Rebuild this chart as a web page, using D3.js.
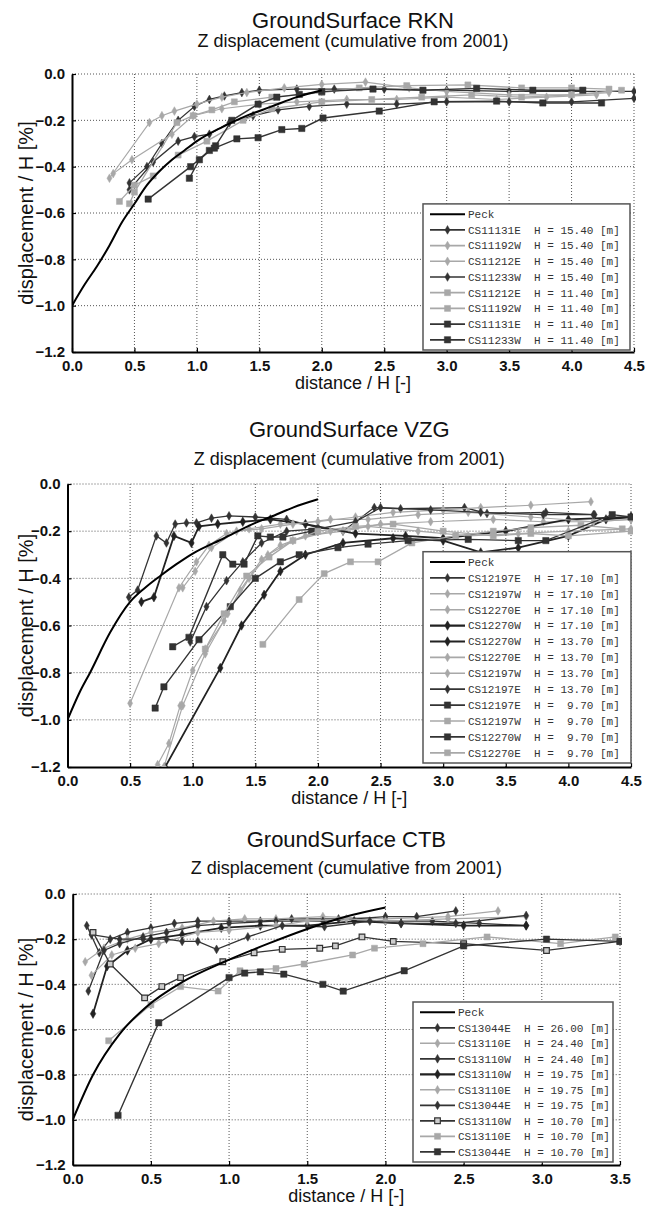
<!DOCTYPE html>
<html>
<head>
<meta charset="utf-8">
<script src="https://cdn.jsdelivr.net/npm/d3@7"></script>
<style>
  body { margin: 0; background: #fff; }
  svg { display: block; }
  text { font-family: "Liberation Sans", Arial, sans-serif; fill: #111; }
  .leg text { font-family: "Liberation Mono", "Courier New", monospace; white-space: pre; fill: #333; }
</style>
</head>
<body>
<svg id="chart" width="656" height="1207"></svg>
<script>
// ── tick labels ──────────────────────────────────────────────
const xTicks45 = [0, 0.5, 1.0, 1.5, 2.0, 2.5, 3.0, 3.5, 4.0, 4.5];
const xTicks35 = [0, 0.5, 1.0, 1.5, 2.0, 2.5, 3.0, 3.5];
const yTicks   = [0, -0.2, -0.4, -0.6, -0.8, -1.0, -1.2];

// ── RKN ([distance/H, displacement/H]) ──
const rknPeck = [[0,-1],[0.1,-0.91],[0.2,-0.83],[0.3,-0.74],[0.4,-0.64],[0.5,-0.56],[0.6,-0.48],[0.7,-0.42],[0.8,-0.37],[0.9,-0.33],[1.0,-0.29],[1.2,-0.23],[1.4,-0.18],[1.6,-0.14],[1.8,-0.1],[2.0,-0.07]];
const rkn11131E_154 = [[0.46,-0.47],[0.6,-0.4],[0.72,-0.3],[0.85,-0.2],[0.98,-0.14],[1.1,-0.11],[1.22,-0.095],[1.36,-0.08],[1.5,-0.07],[1.8,-0.065],[2.1,-0.065],[2.5,-0.065],[3.0,-0.07],[3.5,-0.075],[4.0,-0.075],[4.5,-0.075]];
const rkn11192W_154 = [[0.3,-0.45],[0.62,-0.21],[0.72,-0.18],[0.82,-0.16],[1.0,-0.13],[1.2,-0.1],[1.4,-0.08],[1.7,-0.06],[2.0,-0.045],[2.35,-0.035],[2.7,-0.06],[3.0,-0.075],[3.5,-0.09],[4.0,-0.09],[4.3,-0.08]];
const rkn11212E_154 = [[0.33,-0.43],[0.48,-0.37],[0.8,-0.26],[0.97,-0.18],[1.2,-0.15],[1.5,-0.13],[1.8,-0.12],[2.2,-0.11],[2.6,-0.11],[3.0,-0.1],[3.4,-0.11],[3.8,-0.1],[4.2,-0.09]];
const rkn11233W_154 = [[0.46,-0.5],[0.65,-0.38],[0.85,-0.29],[0.98,-0.27],[1.1,-0.26],[1.26,-0.21],[1.45,-0.18],[1.65,-0.155],[1.9,-0.14],[2.2,-0.13],[2.6,-0.13],[3.0,-0.12],[3.5,-0.12],[4.0,-0.12],[4.5,-0.105]];
const rkn11212E_114 = [[0.38,-0.55],[0.5,-0.48],[0.65,-0.44],[0.85,-0.35],[1.08,-0.29],[1.37,-0.2],[1.6,-0.15],[2.0,-0.12],[2.4,-0.11],[2.8,-0.1],[3.2,-0.09],[3.6,-0.1],[4.0,-0.09],[4.4,-0.07]];
const rkn11192W_114 = [[0.46,-0.56],[0.5,-0.51],[0.84,-0.21],[0.97,-0.18],[1.12,-0.155],[1.3,-0.12],[1.6,-0.1],[2.0,-0.08],[2.3,-0.06],[2.68,-0.05],[3.17,-0.047],[3.6,-0.06],[4.0,-0.06],[4.3,-0.065]];
const rkn11131E_114 = [[0.94,-0.45],[1.02,-0.37],[1.15,-0.31],[1.28,-0.2],[1.49,-0.13],[1.64,-0.1],[1.82,-0.088],[2.0,-0.076],[2.41,-0.065],[2.81,-0.07],[3.24,-0.062],[3.69,-0.07],[4.09,-0.07]];
const rkn11233W_114 = [[0.61,-0.54],[0.95,-0.4],[1.1,-0.33],[1.14,-0.32],[1.32,-0.28],[1.49,-0.275],[1.68,-0.24],[1.84,-0.235],[2.01,-0.19],[2.46,-0.16],[2.9,-0.12],[3.4,-0.117],[3.77,-0.125],[4.24,-0.125]];

// ── VZG ──────────────────────────────────────────────────────
const vzgPeck = [[0,-1],[0.1,-0.88],[0.18,-0.8],[0.34,-0.63],[0.5,-0.5],[0.62,-0.44],[0.74,-0.39],[0.87,-0.34],[1.0,-0.295],[1.25,-0.23],[1.5,-0.165],[1.62,-0.14],[1.8,-0.1],[2.0,-0.065]];
const vzg12197E_171 = [[0.49,-0.48],[0.56,-0.45],[0.71,-0.22],[0.79,-0.25],[0.86,-0.17],[0.95,-0.165],[1.03,-0.165],[1.15,-0.145],[1.29,-0.135],[1.5,-0.14],[1.75,-0.15],[2.0,-0.185],[2.2,-0.2],[2.45,-0.1],[2.66,-0.105],[3.17,-0.1],[3.35,-0.125],[3.82,-0.12],[4.21,-0.13]];
const vzg12197W_171 = [[0.5,-0.93],[0.89,-0.44],[1.03,-0.33],[1.13,-0.26],[1.27,-0.21],[1.45,-0.19],[1.7,-0.17],[2.0,-0.16],[2.3,-0.14],[2.6,-0.12],[3.0,-0.11],[3.3,-0.1],[3.7,-0.09],[4.18,-0.075]];
const vzg12270E_171 = [[0.72,-1.19],[0.81,-1.1],[0.9,-0.94],[1.0,-0.79],[1.1,-0.7],[1.25,-0.58],[1.38,-0.45],[1.55,-0.32],[1.7,-0.26],[1.9,-0.22],[2.2,-0.2],[2.5,-0.17],[2.9,-0.16],[3.4,-0.15],[3.8,-0.16],[4.2,-0.16],[4.5,-0.15]];
const vzg12270W_171 = [[0.59,-0.5],[0.69,-0.48],[0.85,-0.22],[0.99,-0.25],[1.05,-0.18],[1.2,-0.17],[1.4,-0.16],[1.62,-0.15],[1.9,-0.17],[2.3,-0.21],[2.7,-0.22],[3.0,-0.23],[3.5,-0.2],[4.0,-0.15],[4.5,-0.14]];
const vzg12270W_137 = [[0.78,-1.2],[1.22,-0.78],[1.39,-0.6],[1.57,-0.47],[1.7,-0.37],[1.9,-0.3],[2.2,-0.25],[2.6,-0.23],[3.0,-0.24],[3.3,-0.29],[3.6,-0.27],[4.0,-0.22],[4.3,-0.15],[4.5,-0.14]];
const vzg12270E_137 = [[0.77,-1.2],[0.92,-0.94],[1.1,-0.72],[1.28,-0.55],[1.45,-0.4],[1.6,-0.3],[1.8,-0.24],[2.1,-0.2],[2.4,-0.18],[2.8,-0.2],[3.2,-0.22],[3.6,-0.21],[4.0,-0.2],[4.5,-0.19]];
const vzg12197W_137 = [[0.92,-0.44],[1.02,-0.37],[1.15,-0.27],[1.35,-0.2],[1.55,-0.19],[1.8,-0.17],[2.1,-0.15],[2.4,-0.15],[2.8,-0.13],[3.2,-0.12],[3.7,-0.14],[4.2,-0.16],[4.5,-0.15]];
const vzg12197E_137 = [[0.98,-0.67],[1.11,-0.52],[1.27,-0.41],[1.4,-0.33],[1.55,-0.25],[1.75,-0.2],[2.0,-0.19],[2.3,-0.16],[2.5,-0.1],[2.9,-0.11],[3.3,-0.12],[3.8,-0.13],[4.2,-0.13]];
const vzg12197E_97  = [[0.84,-0.69],[0.97,-0.65],[1.24,-0.3],[1.32,-0.34],[1.41,-0.34],[1.52,-0.22],[1.62,-0.225],[1.72,-0.225],[1.95,-0.2]];
const vzg12197W_97  = [[1.56,-0.68],[1.85,-0.49],[2.05,-0.38],[2.26,-0.33],[2.48,-0.33],[2.75,-0.25],[3.1,-0.22],[3.4,-0.2],[3.7,-0.185],[4.1,-0.175],[4.43,-0.19]];
const vzg12270W_97  = [[0.7,-0.95],[0.77,-0.86],[1.05,-0.66],[1.3,-0.52],[1.5,-0.4],[1.7,-0.33],[1.85,-0.3],[2.16,-0.27],[2.4,-0.255],[2.72,-0.24],[3.2,-0.235],[3.6,-0.24],[3.82,-0.24],[4.35,-0.13],[4.5,-0.14]];
const vzg12270E_97  = [[1.1,-0.7],[1.25,-0.55],[1.43,-0.39],[1.61,-0.31],[1.8,-0.24],[2.0,-0.2],[2.3,-0.18],[2.6,-0.17],[3.0,-0.2],[3.4,-0.22],[3.7,-0.21],[4.0,-0.22],[4.5,-0.2]];

// ── CTB ──────────────────────────────────────────────────────
const ctbPeck = [[0,-1],[0.13,-0.8],[0.3,-0.62],[0.47,-0.5],[0.7,-0.39],[0.97,-0.3],[1.25,-0.22],[1.5,-0.155],[1.75,-0.1],[2.0,-0.06]];
const ctb13044E_260 = [[0.09,-0.14],[0.17,-0.26],[0.24,-0.2],[0.35,-0.17],[0.5,-0.15],[0.65,-0.13],[0.8,-0.12],[1.0,-0.12],[1.2,-0.12],[1.4,-0.11],[1.7,-0.11],[2.0,-0.12],[2.3,-0.12],[2.6,-0.13],[2.9,-0.14]];
const ctb13110E_244 = [[0.08,-0.3],[0.2,-0.24],[0.35,-0.2],[0.5,-0.17],[0.7,-0.15],[0.9,-0.12],[1.1,-0.11],[1.3,-0.11],[1.6,-0.1],[2.0,-0.11],[2.4,-0.1],[2.72,-0.075]];
const ctb13110W_244 = [[0.1,-0.43],[0.2,-0.25],[0.3,-0.22],[0.45,-0.19],[0.6,-0.17],[0.8,-0.14],[1.0,-0.13],[1.3,-0.12],[1.6,-0.12],[2.0,-0.1],[2.2,-0.1],[2.45,-0.075]];
const ctb13110W_1975 = [[0.13,-0.53],[0.22,-0.32],[0.35,-0.25],[0.5,-0.2],[0.7,-0.18],[0.95,-0.15],[1.2,-0.14],[1.5,-0.14],[1.8,-0.12],[2.1,-0.13],[2.5,-0.14],[2.9,-0.14]];
const ctb13110E_1975 = [[0.12,-0.36],[0.25,-0.27],[0.4,-0.24],[0.55,-0.22],[0.8,-0.17],[1.0,-0.16],[1.3,-0.14],[1.5,-0.12],[1.75,-0.11],[2.0,-0.12],[2.4,-0.11],[2.9,-0.1]];
const ctb13044E_1975 = [[0.12,-0.18],[0.3,-0.2],[0.45,-0.2],[0.6,-0.2],[0.7,-0.21],[0.8,-0.21],[0.92,-0.245],[1.12,-0.19],[1.34,-0.14],[1.61,-0.145],[1.9,-0.12],[2.1,-0.13],[2.45,-0.13],[2.9,-0.095]];
const ctb13110W_107 = [[0.13,-0.17],[0.24,-0.31],[0.46,-0.46],[0.57,-0.41],[0.69,-0.37],[0.96,-0.3],[1.16,-0.26],[1.34,-0.245],[1.58,-0.24],[1.68,-0.23],[1.85,-0.19],[2.05,-0.21],[2.5,-0.22],[3.03,-0.25],[3.5,-0.21]];
const ctb13110E_107 = [[0.23,-0.65],[0.5,-0.49],[0.69,-0.41],[0.93,-0.43],[1.07,-0.34],[1.3,-0.33],[1.48,-0.31],[1.79,-0.27],[1.93,-0.24],[2.24,-0.22],[2.65,-0.19],[3.12,-0.22],[3.47,-0.19]];
const ctb13044E_107 = [[0.29,-0.98],[0.55,-0.57],[1.0,-0.37],[1.1,-0.35],[1.2,-0.345],[1.35,-0.355],[1.6,-0.4],[1.73,-0.43],[2.12,-0.34],[2.5,-0.23],[3.03,-0.2],[3.5,-0.21]];

// ── styles (kept apart from the values) ──────────────────────
const STYLE = {
  darkDot:  { stroke: "#333", fill: "#333", sym: d3.symbolDiamond, size: 22, width: 1.3 },
  darkPlus: { stroke: "#222", fill: "#222", sym: d3.symbolDiamond, size: 26, width: 1.8 },
  lightDot: { stroke: "#a8a8a8", fill: "#a8a8a8", sym: d3.symbolDiamond, size: 22, width: 1.2 },
  darkSq:   { stroke: "#333", fill: "#333", sym: d3.symbolSquare,  size: 40, width: 1.4 },
  lightSq:  { stroke: "#a8a8a8", fill: "#a8a8a8", sym: d3.symbolSquare,  size: 36, width: 1.3 },
  openSq:   { stroke: "#333", fill: "#ccc", sym: d3.symbolSquare,  size: 32, width: 1.3 }
};

const panels = [
  { title: "GroundSurface RKN", titleY: 28, subY: 47,
    left: 72, right: 634, top: 74, bottom: 352, xMax: 4.5, xTicks: xTicks45, peck: rknPeck,
    legend: { x: 423, width: 207, bottom: 350, rowH: 15.7 },
    series: [
      { data: rkn11131E_154, name: "CS11131E", h: 15.40, style: "darkDot" },
      { data: rkn11192W_154, name: "CS11192W", h: 15.40, style: "lightDot" },
      { data: rkn11212E_154, name: "CS11212E", h: 15.40, style: "lightDot" },
      { data: rkn11233W_154, name: "CS11233W", h: 15.40, style: "darkDot" },
      { data: rkn11212E_114, name: "CS11212E", h: 11.40, style: "lightSq" },
      { data: rkn11192W_114, name: "CS11192W", h: 11.40, style: "lightSq" },
      { data: rkn11131E_114, name: "CS11131E", h: 11.40, style: "darkSq" },
      { data: rkn11233W_114, name: "CS11233W", h: 11.40, style: "darkSq" }
    ] },
  { title: "GroundSurface VZG", titleY: 437, subY: 465,
    left: 67.5, right: 631, top: 484, bottom: 767, xMax: 4.5, xTicks: xTicks45, peck: vzgPeck,
    legend: { x: 423, width: 208, bottom: 763, rowH: 15.9 },
    series: [
      { data: vzg12197E_171, name: "CS12197E", h: 17.10, style: "darkDot" },
      { data: vzg12197W_171, name: "CS12197W", h: 17.10, style: "lightDot" },
      { data: vzg12270E_171, name: "CS12270E", h: 17.10, style: "lightDot" },
      { data: vzg12270W_171, name: "CS12270W", h: 17.10, style: "darkPlus" },
      { data: vzg12270W_137, name: "CS12270W", h: 13.70, style: "darkPlus" },
      { data: vzg12270E_137, name: "CS12270E", h: 13.70, style: "lightDot" },
      { data: vzg12197W_137, name: "CS12197W", h: 13.70, style: "lightDot" },
      { data: vzg12197E_137, name: "CS12197E", h: 13.70, style: "darkDot" },
      { data: vzg12197E_97,  name: "CS12197E", h: 9.70,  style: "darkSq" },
      { data: vzg12197W_97,  name: "CS12197W", h: 9.70,  style: "lightSq" },
      { data: vzg12270W_97,  name: "CS12270W", h: 9.70,  style: "darkSq" },
      { data: vzg12270E_97,  name: "CS12270E", h: 9.70,  style: "lightSq" }
    ] },
  { title: "GroundSurface CTB", titleY: 847, subY: 874,
    left: 72.7, right: 620, top: 894, bottom: 1165, xMax: 3.5, xTicks: xTicks35, peck: ctbPeck,
    legend: { x: 413, width: 200, bottom: 1162, rowH: 15.5 },
    series: [
      { data: ctb13044E_260,  name: "CS13044E", h: 26.00, style: "darkDot" },
      { data: ctb13110E_244,  name: "CS13110E", h: 24.40, style: "lightDot" },
      { data: ctb13110W_244,  name: "CS13110W", h: 24.40, style: "darkDot" },
      { data: ctb13110W_1975, name: "CS13110W", h: 19.75, style: "darkPlus" },
      { data: ctb13110E_1975, name: "CS13110E", h: 19.75, style: "lightDot" },
      { data: ctb13044E_1975, name: "CS13044E", h: 19.75, style: "darkDot" },
      { data: ctb13110W_107,  name: "CS13110W", h: 10.70, style: "openSq" },
      { data: ctb13110E_107,  name: "CS13110E", h: 10.70, style: "lightSq" },
      { data: ctb13044E_107,  name: "CS13044E", h: 10.70, style: "darkSq" }
    ] }
];

const svg = d3.select("#chart");

panels.forEach((p, pi) => {
  const x = d3.scaleLinear().domain([0, p.xMax]).range([p.left, p.right]);
  const y = d3.scaleLinear().domain([-1.2, 0]).range([p.bottom, p.top]);
  const cx = (p.left + p.right) / 2;
  const g = svg.append("g");

  // titles
  g.append("text").attr("x", cx).attr("y", p.titleY).attr("text-anchor", "middle")
    .style("font-size", "22px").text(p.title);
  g.append("text").attr("x", cx).attr("y", p.subY).attr("text-anchor", "middle")
    .style("font-size", "18px").text("Z displacement (cumulative from 2001)");

  // dotted grid (incl. top and right border)
  g.append("g").selectAll("line").data(p.xTicks.slice(1)).join("line")
    .attr("x1", d => x(d)).attr("x2", d => x(d)).attr("y1", p.top).attr("y2", p.bottom)
    .attr("stroke", "#555").attr("stroke-width", 1).attr("stroke-dasharray", "1,2");
  g.append("g").selectAll("line").data(yTicks.slice(0, -1)).join("line")
    .attr("x1", p.left).attr("x2", p.right).attr("y1", d => y(d)).attr("y2", d => y(d))
    .attr("stroke", "#555").attr("stroke-width", 1).attr("stroke-dasharray", "1,2");

  // axes (MATLAB-like: ticks inward, bold labels)
  const ax = g.append("g").attr("transform", `translate(0,${p.bottom})`)
    .call(d3.axisBottom(x).tickValues(p.xTicks).tickFormat(d3.format(".1f")).tickSizeInner(-4).tickSizeOuter(0).tickPadding(8));
  const ay = g.append("g").attr("transform", `translate(${p.left},0)`)
    .call(d3.axisLeft(y).tickValues(yTicks).tickFormat(d3.format(".1f")).tickSizeInner(-4).tickSizeOuter(0).tickPadding(7));
  [ax, ay].forEach(a => {
    a.select(".domain").attr("stroke", "#000").attr("stroke-width", 2);
    a.selectAll(".tick line").attr("stroke", "#000").attr("stroke-width", 1.2);
    a.selectAll("text").style("font-size", "15px").style("font-weight", "bold")
      .style("font-family", '"Liberation Sans", Arial, sans-serif').attr("fill", "#111");
  });
  ax.selectAll("text").attr("dy", "0.72em");

  // axis titles
  g.append("text").attr("x", cx).attr("y", p.bottom + 37).attr("text-anchor", "middle")
    .style("font-size", "18px").text("distance / H [-]");
  g.append("text").attr("transform", `translate(33,${(p.top + p.bottom) / 2}) rotate(-90)`)
    .attr("text-anchor", "middle").style("font-size", "20px").text("displacement / H [%]");

  // clipped data area
  const clipId = "clip" + pi;
  svg.append("clipPath").attr("id", clipId).append("rect")
    .attr("x", p.left).attr("y", p.top - 2).attr("width", p.right - p.left + 2).attr("height", p.bottom - p.top + 2);
  const plot = g.append("g").attr("clip-path", `url(#${clipId})`);

  const line = d3.line().x(d => x(d[0])).y(d => y(d[1]));

  p.series.forEach(s => {
    const st = STYLE[s.style];
    plot.append("path").datum(s.data).attr("fill", "none")
      .attr("stroke", st.stroke).attr("stroke-width", st.width).attr("d", line);
    plot.append("g").selectAll("path").data(s.data).join("path")
      .attr("transform", d => `translate(${x(d[0])},${y(d[1])})`)
      .attr("d", d3.symbol(st.sym, st.size))
      .attr("fill", st.fill).attr("stroke", st.stroke).attr("stroke-width", s.style === "openSq" ? 1.2 : 0.5);
  });

  plot.append("path").datum(p.peck).attr("fill", "none")
    .attr("stroke", "#000").attr("stroke-width", 2)
    .attr("d", d3.line().x(d => x(d[0])).y(d => y(d[1])).curve(d3.curveMonotoneX));

  // legend
  const L = p.legend;
  const rows = p.series.length + 1;
  const boxH = (rows - 1) * L.rowH + 20.5;
  const boxTop = L.bottom - boxH;
  const lg = g.append("g").attr("class", "leg");
  lg.append("rect").attr("x", L.x).attr("y", boxTop).attr("width", L.width).attr("height", boxH)
    .attr("fill", "#fff").attr("stroke", "#555").attr("stroke-width", 1.5);

  const rowY = i => boxTop + 10.3 + i * L.rowH;
  lg.append("line").attr("x1", L.x + 7).attr("x2", L.x + 42).attr("y1", rowY(0)).attr("y2", rowY(0))
    .attr("stroke", "#000").attr("stroke-width", 2);
  lg.append("text").attr("x", L.x + 45).attr("y", rowY(0)).attr("dy", "0.35em")
    .style("font-size", "11px").text("Peck");

  p.series.forEach((s, i) => {
    const st = STYLE[s.style];
    const yy = rowY(i + 1);
    lg.append("line").attr("x1", L.x + 7).attr("x2", L.x + 42).attr("y1", yy).attr("y2", yy)
      .attr("stroke", st.stroke).attr("stroke-width", st.width + 0.4);
    lg.append("path").attr("transform", `translate(${L.x + 24.5},${yy})`)
      .attr("d", d3.symbol(st.sym, st.size)).attr("fill", st.fill).attr("stroke", st.stroke)
      .attr("stroke-width", s.style === "openSq" ? 1.2 : 0.5);
    const label = `${s.name}  H = ${s.h.toFixed(2).padStart(5, " ")} [m]`;
    lg.append("text").attr("x", L.x + 45).attr("y", yy).attr("dy", "0.35em")
      .style("font-size", "11px").text(label);
  });
});
</script>
</body>
</html>
